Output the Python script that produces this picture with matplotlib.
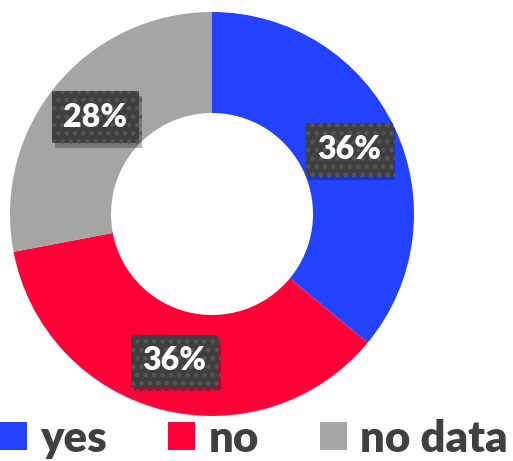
import matplotlib
matplotlib.use('Agg')
import matplotlib.pyplot as plt
from matplotlib.patches import Patch
import matplotlib.patheffects as pe
import numpy as np

labels = ['yes', 'no', 'no data']
values = [36, 36, 28]
colors = ['#2342FF', '#FF0039', '#A5A5A5']

W, H = 513, 461
fig = plt.figure(figsize=(W / 100, H / 100), dpi=100)
ax = fig.add_axes([0, 0, 1, 1])
plt.rcParams['hatch.linewidth'] = 2.0

cx, cy, r = 212, H - 214, 202
wedges, _ = ax.pie(values, colors=colors, startangle=90, counterclock=False,
                   radius=r, center=(cx, cy), frame=True,
                   wedgeprops=dict(width=r * 0.5, linewidth=0))

# percentage labels at ring midpoint
total = sum(values)
start = 90.0
for v in values:
    mid = np.deg2rad(start - v / total * 360 / 2)
    start -= v / total * 360
    rr = r * 0.75
    t = ax.text(cx + rr * np.cos(mid), cy + rr * np.sin(mid), '%d%%' % v,
                ha='center', va='center', color='white', fontsize=23,
                fontweight='heavy', family='Lato',
                bbox=dict(boxstyle='square,pad=0.36', facecolor='#3F3F3F',
                          edgecolor='#555555', hatch='..', linewidth=0))
    t.get_bbox_patch().set_path_effects([pe.SimplePatchShadow(offset=(2, -3), alpha=0.3), pe.Normal()])

ax.set_xlim(0, W)
ax.set_ylim(0, H)
ax.set_aspect('equal')
ax.axis('off')

handles = [Patch(facecolor=c, edgecolor='none') for c in colors]
leg = ax.legend(handles, labels, ncol=3, loc='lower left', bbox_to_anchor=(0.0, 0.005),
                frameon=False, prop=dict(family='Lato', weight='heavy', size=31.5),
                handlelength=0.62, handleheight=0.62, handletextpad=0.3,
                columnspacing=1.4, borderaxespad=0, borderpad=0)
for txt in leg.get_texts():
    txt.set_color('#404040')

fig.savefig('out.png', dpi=100)
